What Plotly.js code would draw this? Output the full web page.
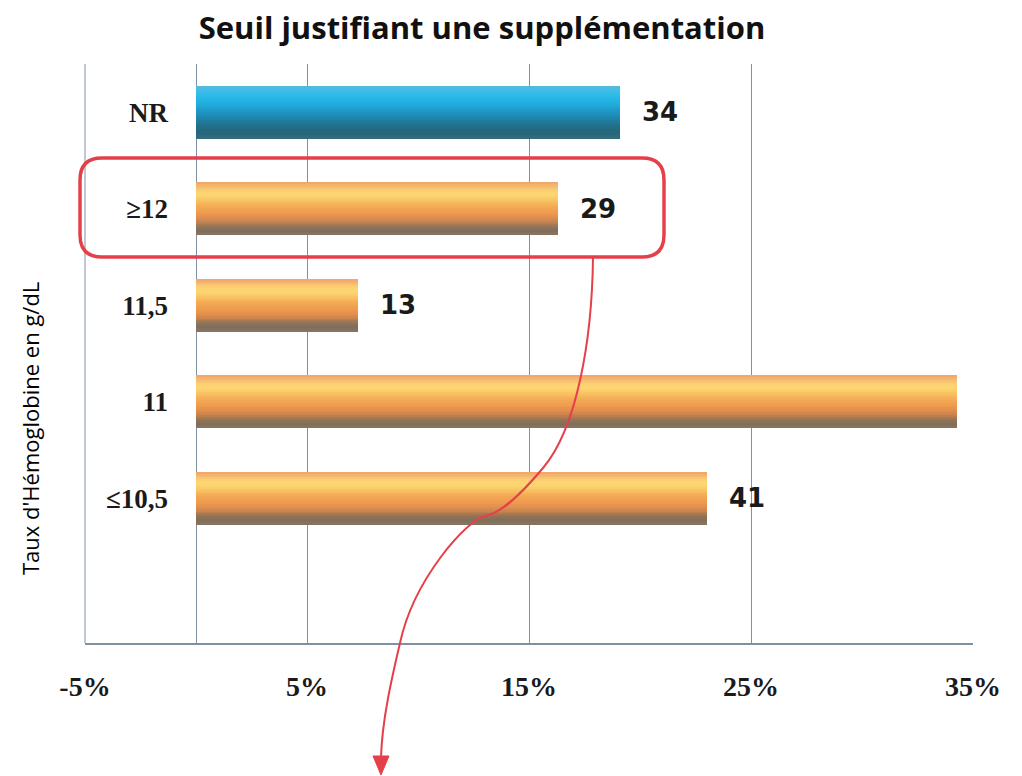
<!DOCTYPE html>
<html>
<head>
<meta charset="utf-8">
<script src="https://cdn.plot.ly/plotly-3.0.1.min.js"></script>
<style>html,body{margin:0;padding:0;background:#fff;}#chart{width:1022px;height:776px;}</style>
</head>
<body>
<div id="chart"></div>
<script>
// ---- data ----
const categories = ['NR', '\u226512', '11,5', '11', '\u226410,5'];
const percentages = [19.1, 16.3, 7.3, 34.3, 23.0];
const counts = [34, 29, 13, 61, 41];
const tickValues = [-5, 5, 15, 25, 35];
const tickLabels = ['-5%', '5%', '15%', '25%', '35%'];

// ---- style: colour stops of the cylinder shading, top to bottom ----
const orangeStops = ['#F0A86C','#F7BE6E','#FCD473','#FCD570','#F9C463','#F5B258','#F2A452','#EE9A4F','#E38F4D','#C8844E','#9C7654','#7E6D5B','#857560'];
const blueStops   = ['#55B9DC','#3DBDE8','#2EBCE9','#24B5E4','#20ACDC','#1FA2D2','#1E96C4','#1E89B4','#1F7DA2','#21718E','#236A80','#27667A','#336D7C'];
const BAR_W = 0.55;
const N = 28;

function hexToRgb(h) { return [1, 3, 5].map(k => parseInt(h.substr(k, 2), 16)); }
function sample(stops, t) {
  const p = t * (stops.length - 1), k = Math.min(Math.floor(p), stops.length - 2), f = p - k;
  const a = hexToRgb(stops[k]), b = hexToRgb(stops[k + 1]);
  return 'rgb(' + a.map((v, i) => Math.round(v + (b[i] - v) * f)).join(',') + ')';
}

const traces = [];
for (let i = 0; i < N; i++) {
  const t = i / (N - 1);
  const oc = sample(orangeStops, t), bc = sample(blueStops, t);
  traces.push({
    type: 'bar', orientation: 'h',
    y: categories, x: percentages,
    width: BAR_W / N + 0.0015,
    offset: -BAR_W / 2 + i * BAR_W / N,
    marker: { color: categories.map((c, j) => j === 0 ? bc : oc), line: { width: 0 } },
    hoverinfo: 'skip', showlegend: false
  });
}

// plot area in pixels
const L = 85, R = 973, T = 64, B = 643;
const px = x => (x - L) / (R - L);
const py = y => (B - y) / (B - T);
const P = (x, y) => px(x).toFixed(5) + ',' + py(y).toFixed(5);

// rounded red box
const bx1 = 80, bx2 = 664, by1 = 158, by2 = 257, r = 22;
const boxPath = 'M ' + P(bx1 + r, by1) + ' L ' + P(bx2 - r, by1) +
  ' Q ' + P(bx2, by1) + ' ' + P(bx2, by1 + r) +
  ' L ' + P(bx2, by2 - r) + ' Q ' + P(bx2, by2) + ' ' + P(bx2 - r, by2) +
  ' L ' + P(bx1 + r, by2) + ' Q ' + P(bx1, by2) + ' ' + P(bx1, by2 - r) +
  ' L ' + P(bx1, by1 + r) + ' Q ' + P(bx1, by1) + ' ' + P(bx1 + r, by1) + ' Z';

const curvePath = 'M ' + P(593, 258) +
  ' C ' + P(592, 340) + ' ' + P(577, 428) + ' ' + P(543, 468) +
  ' C ' + P(522, 493) + ' ' + P(502, 513) + ' ' + P(485, 516) +
  ' C ' + P(468, 519) + ' ' + P(414, 578) + ' ' + P(400, 643) +
  ' C ' + P(392, 677) + ' ' + P(382, 720) + ' ' + P(381, 758);
const headPath = 'M ' + P(373, 756) + ' L ' + P(389, 756) + ' L ' + P(381, 775) + ' Z';

const red = '#E5404A';

const annotations = categories.map((c, i) => ({
  x: percentages[i], y: c, xref: 'x', yref: 'y',
  text: String(counts[i]), showarrow: false,
  xanchor: 'left', yanchor: 'middle', xshift: 20,
  font: { family: 'DejaVu Sans', size: 26, color: '#1a1a1a', weight: 'bold' }
}));
annotations.push({
  xref: 'paper', yref: 'paper', x: px(30), y: py(429),
  text: "Taux d'H\u00e9moglobine en g/dL", textangle: -90, showarrow: false,
  xanchor: 'center', yanchor: 'middle',
  font: { family: 'Open Sans', size: 22, color: '#000', weight: 500 }
});

const layout = {
  width: 1022, height: 776,
  margin: { l: L, r: 1022 - R, t: T, b: 776 - B, pad: 0 },
  paper_bgcolor: '#fff', plot_bgcolor: '#fff',
  barmode: 'overlay', bargap: 0,
  title: {
    text: 'Seuil justifiant une suppl\u00e9mentation',
    x: 482 / 1022, xanchor: 'center', xref: 'container',
    y: 1 - 28 / 776, yanchor: 'middle', yref: 'container',
    font: { family: 'Open Sans', size: 31, color: '#111', weight: 700 }
  },
  xaxis: {
    range: [-5, 35], tickmode: 'array', tickvals: tickValues, ticktext: tickLabels,
    showgrid: true, gridcolor: '#7f91a2', gridwidth: 1,
    zeroline: true, zerolinecolor: '#7f91a2', zerolinewidth: 1,
    showline: true, linecolor: '#7f91a2', linewidth: 2,
    ticks: '', ticklabelstandoff: 17,
    tickfont: { family: 'Liberation Serif', size: 28, color: '#1a1a1a', weight: 'bold' },
    fixedrange: true
  },
  yaxis: {
    type: 'category', categoryorder: 'array', categoryarray: categories,
    range: [5.5, -0.5], anchor: 'free', position: 0.125, side: 'left',
    showgrid: false, zeroline: false, showline: false, ticks: '',
    ticklabelstandoff: 28,
    tickfont: { family: 'Liberation Serif', size: 27, color: '#1a1a1a', weight: 'bold' },
    fixedrange: true
  },
  shapes: [
    { type: 'line', xref: 'paper', yref: 'paper', x0: 0, x1: 0, y0: 0, y1: 1, line: { color: '#7f91a2', width: 1 }, layer: 'below' },
    { type: 'path', xref: 'paper', yref: 'paper', path: boxPath, line: { color: red, width: 3.5 }, fillcolor: 'rgba(0,0,0,0)', layer: 'above' },
    { type: 'path', xref: 'paper', yref: 'paper', path: curvePath, line: { color: red, width: 2 }, fillcolor: 'rgba(0,0,0,0)', layer: 'above' },
    { type: 'path', xref: 'paper', yref: 'paper', path: headPath, line: { color: red, width: 1 }, fillcolor: red, layer: 'above' }
  ],
  annotations: annotations
};

Plotly.newPlot('chart', traces, layout, { staticPlot: true, displayModeBar: false });
</script>
</body>
</html>
